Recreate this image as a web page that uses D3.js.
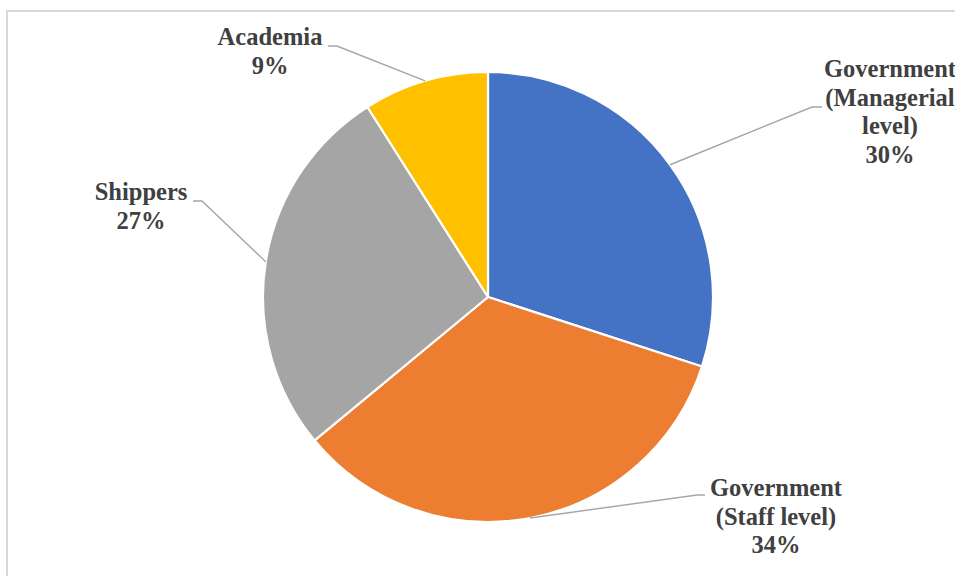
<!DOCTYPE html>
<html>
<head>
<meta charset="utf-8">
<script src="https://cdn.jsdelivr.net/npm/d3@7/dist/d3.min.js"></script>
<style>
  html, body { margin: 0; padding: 0; background: #ffffff; }
  svg { display: block; }
  .lbl { font-family: "Liberation Serif", "Times New Roman", serif; font-weight: bold; }
</style>
</head>
<body>
<svg id="chart" width="955" height="576"></svg>
<script>
// Respondent groups and their shares (%)
const categories = [
  ["Government", "(Managerial", "level)"],
  ["Government", "(Staff level)"],
  ["Shippers"],
  ["Academia"]
];
const shares = [30, 34, 27, 9];
const shareLabels = ["30%", "34%", "27%", "9%"];
const colors = ["#4472C4", "#ED7D31", "#A5A5A5", "#FFC000"];

// Label placement: text centre x, first baseline y, and the leader-line elbow
const labelLayout = [
  { cx: 890, y: 77,  elbow: [812, 107], tail: [822, 107] },
  { cx: 776, y: 496, elbow: [697, 495], tail: [705, 495] },
  { cx: 141, y: 200, elbow: [202, 201], tail: [193, 201] },
  { cx: 270, y: 45,  elbow: [337, 46],  tail: [328, 46] }
];

const svg = d3.select("#chart");
const W = 955, H = 576;
const cx = 488, cy = 297, R = 225;
const lineH = 28.7;

// chart-area frame (runs off the right and bottom edges)
svg.append("rect")
  .attr("x", 7).attr("y", 11)
  .attr("width", W + 20).attr("height", H + 20)
  .attr("fill", "#ffffff")
  .attr("stroke", "#d9d9d9").attr("stroke-width", 2);

const data = shares.map((v, i) => ({ value: v, lines: categories[i], pct: shareLabels[i], color: colors[i], layout: labelLayout[i] }));

const pie = d3.pie().value(d => d.value).sort(null);
const arcs = pie(data);
const arc = d3.arc().innerRadius(0).outerRadius(R);

const g = svg.append("g").attr("transform", `translate(${cx},${cy})`);

g.selectAll("path.slice")
  .data(arcs)
  .join("path")
  .attr("class", "slice")
  .attr("d", arc)
  .attr("fill", d => d.data.color)
  .attr("stroke", "#ffffff")
  .attr("stroke-width", 2.2)
  .attr("stroke-linejoin", "round");

// leader lines from the slice rim (at mid-angle) to the label
svg.selectAll("polyline.leader")
  .data(arcs)
  .join("polyline")
  .attr("class", "leader")
  .attr("points", d => {
    const a = (d.startAngle + d.endAngle) / 2;
    const px = cx + R * Math.sin(a), py = cy - R * Math.cos(a);
    const L = d.data.layout;
    return [[px, py], L.elbow, L.tail].map(p => p.join(",")).join(" ");
  })
  .attr("fill", "none")
  .attr("stroke", "#a6a6a6")
  .attr("stroke-width", 1.4);

// labels
const labels = svg.selectAll("text.lbl")
  .data(arcs)
  .join("text")
  .attr("class", "lbl")
  .attr("text-anchor", "middle")
  .attr("font-size", 24.5)
  .attr("fill", "#404040");

labels.each(function(d) {
  const t = d3.select(this);
  const L = d.data.layout;
  const lines = d.data.lines.concat([d.data.pct]);
  lines.forEach((s, k) => {
    t.append("tspan")
      .attr("x", L.cx)
      .attr("y", L.y + k * lineH)
      .text(s);
  });
});
</script>
</body>
</html>
